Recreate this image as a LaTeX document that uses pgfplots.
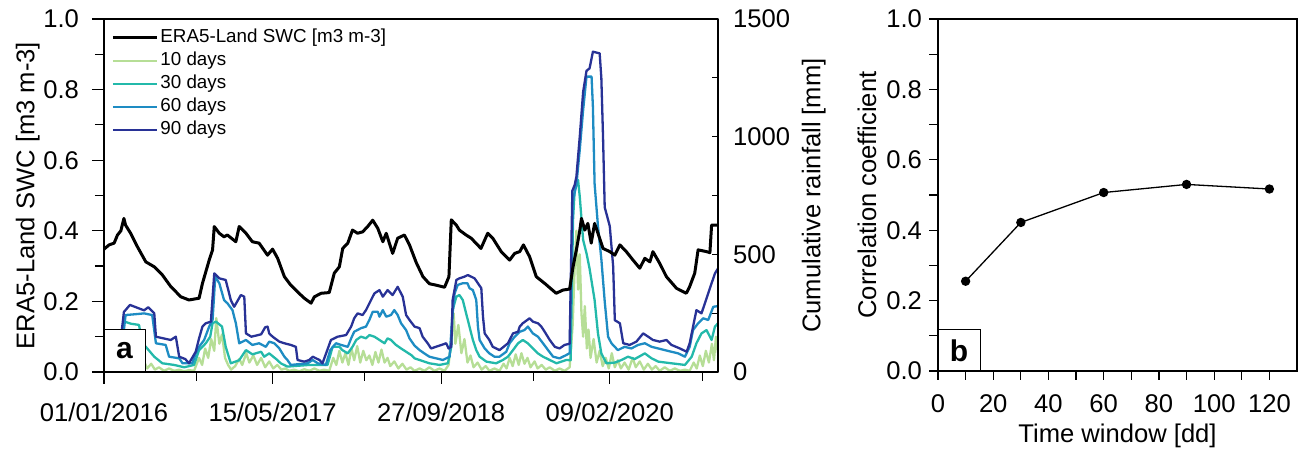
\documentclass[border=0pt]{standalone}
\usepackage{pgfplots}
\pgfplotsset{compat=1.18}
\usepackage{fontspec}
\setmainfont{Liberation Sans}
\definecolor{c10}{RGB}{182,222,150}
\definecolor{c30}{RGB}{35,185,170}
\definecolor{c60}{RGB}{30,140,195}
\definecolor{c90}{RGB}{40,50,150}
\pgfplotsset{
  myaxis/.style={
    scale only axis,
    /pgf/number format/assume math mode=true,
    /pgf/number format/1000 sep={},
    scaled ticks=false,
    every tick label/.append style={font=\fontsize{12.8}{15}\selectfont},
    label style={font=\fontsize{12.8}{15}\selectfont},
    axis line style={line width=0.65pt},
    every tick/.style={line width=0.6pt, black},
  }
}
\begin{document}
\begin{tikzpicture}
\useasboundingbox (-52pt,-40.5pt) rectangle (601pt,186pt);
% ---------------- rainfall axis (right) ----------------
\begin{axis}[myaxis,
  width=307pt, height=176.5pt,
  xmin=0, xmax=1821, ymin=0, ymax=1500,
  axis x line=none, axis y line*=right,
  ytick={0,500,1000,1500}, minor ytick={250,750,1250},
  tick align=inside, major tick length=3pt, minor tick length=3pt,
  yticklabel style={anchor=west, xshift=4pt},
  ylabel={Cumulative rainfall [mm]},
  ylabel style={at={(rel axis cs:1.156,0.5)}, anchor=center},
  legend style={at={(rel axis cs:0,1)}, anchor=north west, draw=none, fill=none,
    inner sep=0pt, xshift=3.5pt, yshift=-3.75pt,
    font=\fontsize{9.4}{11}\selectfont,
    nodes={inner sep=1pt, text height=7pt, text depth=2pt}, row sep=0.5pt},
  legend cell align=left,
  legend image code/.code={\draw[#1] (0pt,0pt) -- (22pt,0pt);},
  line join=round,
]
\addlegendimage{black, line width=1.5pt}
\addlegendentry{ERA5-Land SWC [m3 m-3]}
% 10 days
\addplot[c10, line width=1.15pt] coordinates {
(0,20)(15,10)(30,5)(45,40)(53,20)(62,90)(71,40)(80,70)(89,30)(98,60)(107,20)(119,45)(128,15)(140,35)(151,10)(163,20)(178,5)(193,15)(208,5)(223,10)(238,3)(252,8)(267,5)
(282,60)(291,30)(300,100)(309,60)(318,140)(327,90)(333,229)(342,120)(350,160)(359,60)(368,30)(377,10)(389,25)(401,55)(410,30)(422,80)(431,40)(443,70)(454,30)(466,60)(478,20)(490,45)(502,15)(514,30)(526,10)(538,15)(549,5)(564,10)(579,3)(594,12)(609,5)(624,15)(639,5)(653,10)(668,5)
(680,60)(689,30)(698,90)(707,40)(716,80)(725,30)(734,100)(742,50)(751,110)(760,40)(769,90)(778,50)(787,70)(796,30)(805,85)(814,40)(823,95)(832,40)(841,60)(849,25)(861,45)(873,15)(885,35)(897,10)(909,20)(921,5)(936,15)(950,5)(965,20)(980,5)(995,15)(1010,5)
(1022,30)(1031,150)(1037,250)(1042,120)(1051,200)(1060,80)(1069,140)(1078,40)(1087,70)(1096,20)(1108,40)(1120,10)(1132,25)(1143,5)(1158,15)(1173,5)(1185,35)(1194,15)(1203,60)(1212,25)(1221,75)(1230,30)(1238,80)(1247,35)(1256,60)(1265,20)(1277,45)(1286,15)(1298,30)(1310,10)(1322,20)(1337,5)(1351,15)(1366,5)(1381,20)
(1390,200)(1396,450)(1401,600)(1406,350)(1411,500)(1416,250)(1421,150)(1426,280)(1432,100)(1437,180)(1443,60)(1452,140)(1461,40)(1470,90)(1479,25)(1488,60)(1497,15)(1506,80)(1515,20)(1524,50)(1533,15)(1544,40)(1556,10)(1568,60)(1577,20)(1589,45)(1601,10)(1613,35)(1625,10)(1636,25)(1648,5)(1663,20)(1678,5)(1693,15)(1708,5)(1723,10)(1737,5)
(1749,40)(1758,15)(1767,70)(1776,25)(1785,90)(1794,40)(1803,120)(1809,50)(1815,150)(1821,80)
};
\addlegendentry{10 days}
% 30 days
\addplot[c30, line width=1.15pt] coordinates {
(0,60)(50,50)(59,215)(80,205)(104,200)(113,120)(124,107)(149,65)(173,37)(208,30)(238,20)(267,30)(282,93)(302,122)(315,150)(322,207)(332,214)(350,193)(361,107)(376,37)(401,50)(421,93)(440,75)(466,86)(475,65)(490,79)(514,51)(524,37)(544,23)(609,30)(663,30)(678,107)(698,107)(707,93)(723,79)(737,107)(748,136)(762,150)(777,143)(787,157)(802,150)(817,136)(832,122)(841,143)(851,136)(866,115)(881,100)(896,86)(911,72)(921,58)(936,51)(965,37)(995,30)(1020,37)(1030,107)(1034,263)(1045,320)(1054,327)(1064,306)(1074,249)(1084,193)(1094,136)(1104,93)(1114,65)(1134,44)(1163,37)(1183,51)(1198,65)(1213,93)(1228,122)(1242,136)(1257,122)(1272,100)(1287,79)(1302,65)(1322,51)(1342,37)(1371,51)(1384,50)(1391,645)(1396,773)(1406,816)(1411,745)(1421,561)(1431,504)(1440,440)(1455,306)(1465,164)(1475,79)(1490,37)(1515,40)(1535,51)(1554,65)(1574,55)(1604,79)(1624,58)(1644,44)(1683,37)(1723,30)(1743,65)(1757,122)(1772,164)(1787,178)(1802,136)(1812,193)(1821,207)
};
\addlegendentry{30 days}
% 60 days
\addplot[c60, line width=1.15pt] coordinates {
(0,90)(53,100)(64,242)(89,245)(119,249)(143,242)(154,122)(183,115)(193,65)(223,58)(233,37)(262,37)(272,79)(282,107)(297,136)(312,193)(322,221)(330,405)(342,377)(356,306)(366,292)(381,263)(391,207)(401,122)(421,136)(440,115)(460,122)(480,107)(490,129)(505,122)(520,100)(535,65)(544,51)(554,30)(604,37)(619,51)(634,37)(658,30)(671,93)(688,122)(703,115)(723,107)(733,143)(742,171)(762,186)(777,193)(787,221)(797,256)(812,256)(817,235)(827,263)(837,235)(851,242)(861,263)(871,242)(881,207)(896,178)(906,143)(921,112)(936,93)(950,79)(965,65)(985,58)(1005,51)(1025,65)(1033,235)(1040,334)(1049,370)(1064,377)(1078,377)(1084,356)(1094,348)(1104,306)(1109,193)(1114,136)(1129,100)(1143,79)(1158,65)(1173,65)(1193,86)(1203,122)(1218,150)(1233,171)(1247,178)(1257,193)(1272,164)(1287,150)(1302,122)(1317,93)(1332,65)(1351,58)(1371,72)(1381,80)(1391,731)(1401,795)(1411,944)(1421,1113)(1431,1255)(1446,1255)(1450,1127)(1455,800)(1465,620)(1475,480)(1485,300)(1495,150)(1505,122)(1524,93)(1544,107)(1564,100)(1584,115)(1604,122)(1624,107)(1644,100)(1663,93)(1683,86)(1703,79)(1723,65)(1737,107)(1747,178)(1762,207)(1777,228)(1792,221)(1807,277)(1821,280)
};
\addlegendentry{60 days}
% 90 days
\addplot[c90, line width=1.15pt] coordinates {
(0,120)(50,140)(59,255)(77,285)(104,270)(119,262)(131,275)(149,250)(154,150)(198,136)(213,150)(223,65)(241,55)(252,37)(272,86)(282,143)(292,193)(302,207)(317,214)(327,419)(342,398)(361,391)(376,306)(386,277)(406,327)(416,320)(421,164)(437,150)(466,160)(478,190)(485,193)(490,164)(500,150)(520,129)(535,122)(554,115)(569,107)(574,51)(594,44)(609,51)(619,65)(639,51)(648,37)(673,136)(693,150)(718,157)(733,193)(742,228)(752,249)(767,242)(777,263)(792,306)(802,334)(817,348)(827,320)(841,348)(856,327)(871,362)(886,320)(896,242)(906,221)(921,193)(936,186)(945,150)(960,122)(970,100)(1015,122)(1022,100)(1030,107)(1034,306)(1045,391)(1054,398)(1069,405)(1079,412)(1099,398)(1109,377)(1119,356)(1124,235)(1129,164)(1143,136)(1153,107)(1173,93)(1198,122)(1213,164)(1228,171)(1233,193)(1242,207)(1262,228)(1272,214)(1287,207)(1297,193)(1307,171)(1322,136)(1337,107)(1351,100)(1366,115)(1381,120)(1389,770)(1396,795)(1401,830)(1411,1000)(1421,1190)(1431,1280)(1440,1290)(1450,1361)(1470,1354)(1475,1250)(1480,1000)(1485,700)(1500,620)(1510,450)(1515,220)(1530,207)(1540,122)(1559,115)(1579,129)(1599,164)(1614,150)(1628,136)(1648,129)(1668,136)(1683,115)(1708,100)(1728,86)(1737,122)(1757,263)(1772,249)(1802,377)(1812,419)(1821,440)
};
\addlegendentry{90 days}
\end{axis}
% ---------------- SWC axis (left) ----------------
\begin{axis}[myaxis,
  width=307pt, height=176.5pt,
  xmin=0, xmax=1821, ymin=0, ymax=1,
  xtick={0,500,1000,1500},
  xticklabels={01/01/2016,15/05/2017,27/09/2018,09/02/2020},
  minor xtick={275,772,1273,1775},
  ytick={0,0.2,0.4,0.6,0.8,1}, minor ytick={0.1,0.3,0.5,0.7,0.9},
  yticklabel style={xshift=-3pt, /pgf/number format/.cd, fixed, fixed zerofill, precision=1},
  xticklabel style={yshift=-6pt},
  xtick pos=bottom, ytick pos=left,
  tick align=outside, major tick length=6pt, minor tick length=4.5pt,
  ylabel={ERA5-Land SWC [m3 m-3]},
  ylabel style={at={(rel axis cs:-0.124,0.5)}, anchor=center},
  axis on top,
  line join=round,
]
\addplot[black, line width=1.5pt] coordinates {
(0,0.348)(15,0.36)(30,0.365)(40,0.388)(50,0.40)(59,0.435)(64,0.416)(79,0.393)(99,0.355)(124,0.312)(149,0.298)(173,0.275)(198,0.242)(228,0.213)(252,0.204)(282,0.209)(292,0.251)(302,0.284)(312,0.317)(322,0.346)(327,0.412)(342,0.393)(356,0.383)(366,0.388)(391,0.369)(401,0.412)(421,0.393)(440,0.369)(460,0.365)(485,0.331)(500,0.348)(515,0.322)(535,0.27)(554,0.246)(574,0.227)(594,0.209)(614,0.195)(624,0.213)(644,0.223)(668,0.225)(683,0.28)(698,0.298)(708,0.35)(723,0.365)(737,0.402)(752,0.393)(767,0.397)(782,0.412)(797,0.43)(812,0.407)(827,0.369)(837,0.393)(856,0.336)(871,0.379)(891,0.388)(906,0.36)(916,0.335)(926,0.31)(946,0.27)(965,0.25)(985,0.246)(1010,0.240)(1023,0.27)(1030,0.431)(1045,0.416)(1054,0.402)(1074,0.388)(1089,0.379)(1118,0.35)(1138,0.393)(1153,0.379)(1178,0.341)(1203,0.317)(1218,0.336)(1233,0.341)(1244,0.36)(1262,0.327)(1282,0.27)(1307,0.251)(1341,0.223)(1361,0.232)(1381,0.235)(1391,0.298)(1401,0.346)(1411,0.40)(1416,0.435)(1426,0.402)(1435,0.421)(1445,0.365)(1455,0.421)(1470,0.379)(1480,0.35)(1500,0.341)(1515,0.331)(1530,0.36)(1549,0.341)(1569,0.317)(1589,0.294)(1604,0.322)(1619,0.312)(1628,0.341)(1648,0.308)(1668,0.27)(1698,0.237)(1727,0.223)(1737,0.242)(1752,0.28)(1762,0.346)(1787,0.341)(1797,0.338)(1802,0.416)(1821,0.416)
};
\draw[line width=0.5pt, fill=white] (rel axis cs:0,0) rectangle (rel axis cs:0.0668,0.119);
\node[font=\bfseries\fontsize{15}{17}\selectfont] at (rel axis cs:0.0334,0.0595) {a};
\end{axis}
% ---------------- panel b ----------------
\begin{axis}[myaxis,
  at={(417pt,0.5pt)},
  width=179.5pt, height=176pt,
  xmin=0, xmax=130, ymin=0, ymax=1,
  xtick={0,20,40,60,80,100,120}, minor xtick={10,30,50,70,90,110},
  ytick={0,0.2,0.4,0.6,0.8,1}, minor ytick={0.1,0.3,0.5,0.7,0.9},
  yticklabel style={/pgf/number format/.cd, fixed, fixed zerofill, precision=1},
  xticklabel style={yshift=-4pt},
  xtick pos=bottom, ytick pos=left,
  tick align=outside, major tick length=4.5pt, minor tick length=4.5pt,
  xlabel={Time window [dd]},
  xlabel style={at={(rel axis cs:0.5,-0.185)}, anchor=center},
  ylabel={Correlation coefficient},
  ylabel style={at={(rel axis cs:-0.198,0.5)}, anchor=center},
  axis on top,
]
\addplot[black, line width=0.65pt, mark=*, mark size=2pt] coordinates {
(10,0.255)(30,0.422)(60,0.507)(90,0.530)(120,0.517)
};
\draw[line width=0.5pt, fill=white] (rel axis cs:0,0) rectangle (rel axis cs:0.117,0.1165);
\node[font=\bfseries\fontsize{15}{17}\selectfont] at (rel axis cs:0.0585,0.058) {b};
\end{axis}
\end{tikzpicture}
\end{document}
